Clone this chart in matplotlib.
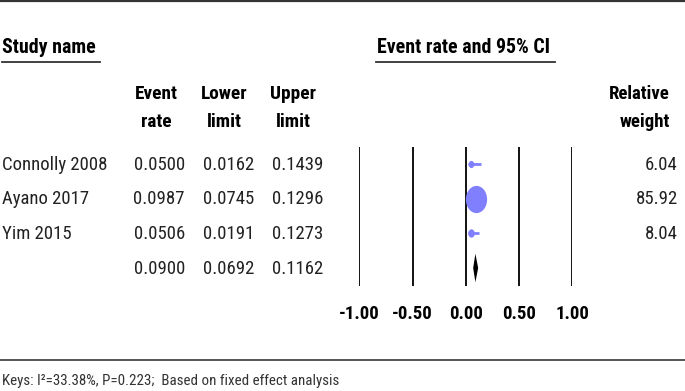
import matplotlib
matplotlib.use("Agg")
import matplotlib.pyplot as plt
import numpy as np
from matplotlib.path import Path
from matplotlib.markers import MarkerStyle
import logging
logging.getLogger('matplotlib.font_manager').setLevel(logging.ERROR)

plt.rcParams['font.family'] = ['Liberation Sans Narrow', 'Nimbus Sans Narrow', 'Arial Narrow',
                               'Roboto Condensed', 'DejaVu Sans']

studies = ["Connolly 2008", "Ayano 2017", "Yim 2015"]
event_rate = [0.0500, 0.0987, 0.0506]
lower_limit = [0.0162, 0.0745, 0.0191]
upper_limit = [0.1439, 0.1296, 0.1273]
rel_weight = [6.04, 85.92, 8.04]
summary = [0.0900, 0.0692, 0.1162]  # rate, lower, upper
xticks = [-1.00, -0.50, 0.00, 0.50, 1.00]
keys_text = "Keys: I\u00b2=33.38%, P=0.223;  Based on fixed effect analysis"

W, H = 685, 391
fig = plt.figure(figsize=(W / 100, H / 100), dpi=100)

bg = fig.add_axes([0, 0, 1, 1])
bg.set_xlim(0, W)
bg.set_ylim(H, 0)
bg.axis('off')

FS = 13.5
FT = 14.3

bg.plot([0, W], [1.2, 1.2], color='#333333', lw=1.6, solid_capstyle='butt')
bg.text(2, 47.5, "Study name", fontsize=FT, fontweight='bold', va='center', ha='left', color='black')
bg.plot([2, 100], [62, 62], color='#333333', lw=1.3)
bg.text(377, 47.5, "Event rate and 95% CI", fontsize=FT, fontweight='bold', va='center', ha='left', color='black')
bg.plot([376, 555], [62, 62], color='#333333', lw=1.3)

headers = [("Event", "rate", 156), ("Lower", "limit", 224), ("Upper", "limit", 293)]
for a, b, x in headers:
    bg.text(x, 94, a, fontsize=FS + 0.4, fontweight='bold', ha='center', va='center')
    bg.text(x, 122, b, fontsize=FS + 0.4, fontweight='bold', ha='center', va='center')
bg.text(670, 94, "Relative", fontsize=FS, fontweight='bold', ha='right', va='center')
bg.text(670, 122, "weight", fontsize=FS, fontweight='bold', ha='right', va='center')

row_y = [164.5, 199.2, 233.9, 268.6]
gray = '#222222'
for i, name in enumerate(studies):
    y = row_y[i]
    bg.text(2, y, name, fontsize=FS, ha='left', va='center', color=gray)
    bg.text(185, y, f"{event_rate[i]:.4f}", fontsize=FS, ha='right', va='center', color=gray)
    bg.text(254, y, f"{lower_limit[i]:.4f}", fontsize=FS, ha='right', va='center', color=gray)
    bg.text(323, y, f"{upper_limit[i]:.4f}", fontsize=FS, ha='right', va='center', color=gray)
    bg.text(678, y, f"{rel_weight[i]:.2f}", fontsize=FS, ha='right', va='center', color=gray)
y = row_y[3]
bg.text(185, y, f"{summary[0]:.4f}", fontsize=FS, ha='right', va='center', color=gray)
bg.text(254, y, f"{summary[1]:.4f}", fontsize=FS, ha='right', va='center', color=gray)
bg.text(323, y, f"{summary[2]:.4f}", fontsize=FS, ha='right', va='center', color=gray)

bg.plot([0, W], [360, 360], color='#555555', lw=1.4)
bg.text(2, 381, keys_text, fontsize=10.8, ha='left', va='center', color='#333333')

x0, x1 = 359.3, 572.3
ytop, ybot = 147, 286
ax = fig.add_axes([x0 / W, 1 - ybot / H, (x1 - x0) / W, (ybot - ytop) / H])
ax.set_xlim(-1, 1)
ax.set_ylim(3.52, -0.49)
for s in ax.spines.values():
    s.set_visible(False)
ax.set_yticks([])
ax.set_xticks(xticks)
ax.set_xticklabels([f"{t:.2f}" for t in xticks], fontsize=FS, fontweight='bold')
ax.tick_params(axis='x', length=0, pad=13.5)
ax.patch.set_alpha(0)
for t in xticks:
    ax.axvline(t, color='#111111', lw=1.4, zorder=1)

circ = Path.unit_circle()
ell = Path(circ.vertices * np.array([0.78, 1.0]), circ.codes)
mk = MarkerStyle(ell)
blue = '#8080FF'
for i in range(len(studies)):
    ax.plot([lower_limit[i], upper_limit[i]], [i, i], color=blue, lw=2.0, zorder=3, solid_capstyle='butt')
    ms = 19.6 * np.sqrt(rel_weight[i] / max(rel_weight))
    ax.plot([event_rate[i]], [i], marker=mk, ms=ms, color=blue, mec=blue, mew=0, zorder=4, clip_on=False)

yd = 3
h = 0.41
ax.fill([summary[1], summary[0], summary[2], summary[0]], [yd, yd - h, yd, yd + h],
        color='black', zorder=5, lw=0)

fig.savefig("out.png", dpi=100)
